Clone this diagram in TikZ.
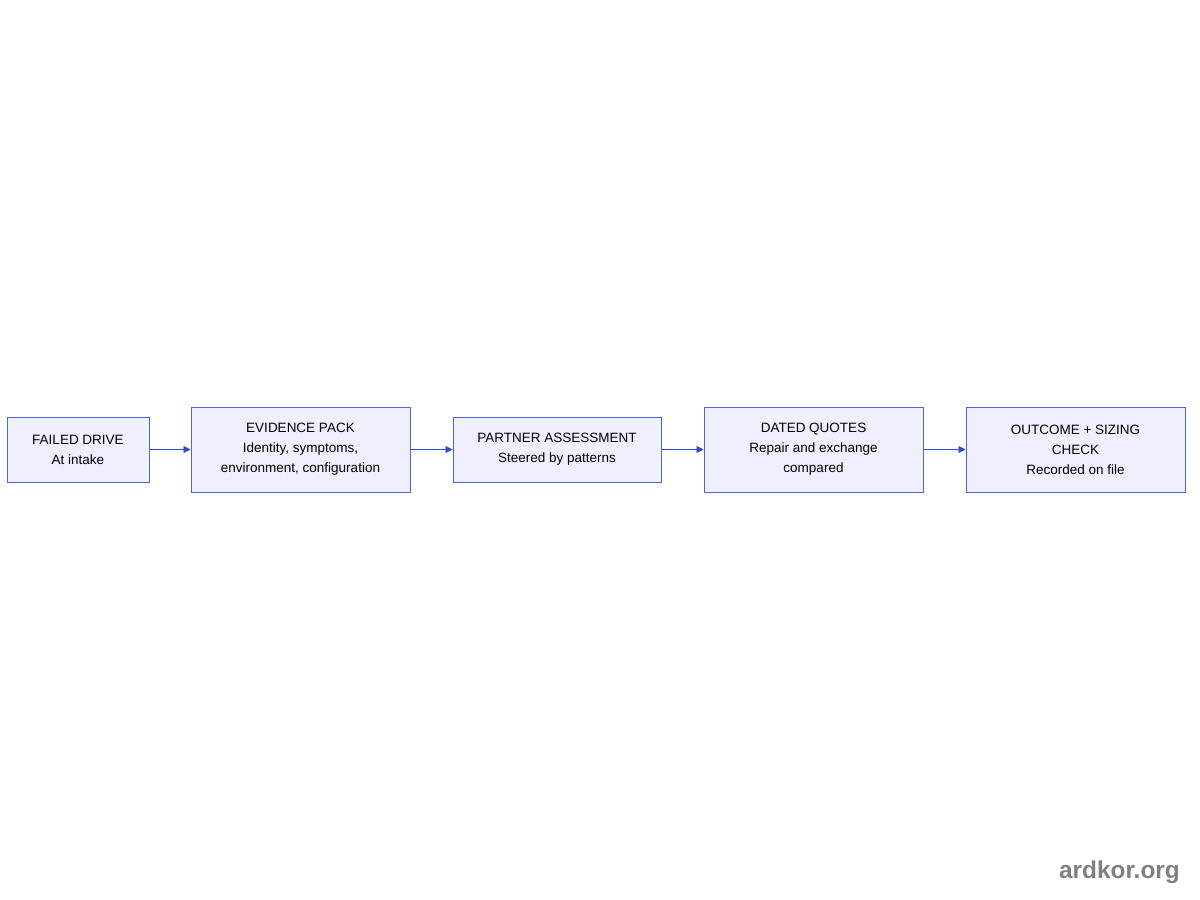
\documentclass[tikz,border=0pt]{standalone}
\usepackage{fontspec}
\setmainfont{Liberation Sans}
\usetikzlibrary{arrows.meta}
\definecolor{boxfill}{HTML}{EEF1FD}
\definecolor{boxdraw}{HTML}{4A66E0}
\definecolor{arrowc}{HTML}{2F49D1}
\definecolor{wm}{HTML}{808080}
\begin{document}
\begin{tikzpicture}[x=1pt,y=-1pt,
  stage/.style={draw=boxdraw,fill=boxfill,line width=1pt,align=center,
    font=\fontsize{13.5}{20}\selectfont,inner sep=0pt,anchor=center},
  flow/.style={draw=arrowc,line width=0.9pt,-{Triangle[length=7pt,width=7pt]}}]
\useasboundingbox (0,0) rectangle (1200,900);
\node[stage,minimum width=142pt,minimum height=65pt] (a) at (78,449.5) {FAILED DRIVE\\At intake};
\node[stage,minimum width=219pt,minimum height=85pt] (b) at (300.5,449.5) {EVIDENCE PACK\\Identity, symptoms,\\environment, configuration};
\node[stage,minimum width=208pt,minimum height=65pt] (c) at (557,449.5) {PARTNER ASSESSMENT\\Steered by patterns};
\node[stage,minimum width=219pt,minimum height=85pt] (d) at (813.5,449.5) {DATED QUOTES\\Repair and exchange\\compared};
\node[stage,minimum width=219pt,minimum height=85pt] (e) at (1075.5,449.5) {OUTCOME + SIZING\\CHECK\\Recorded on file};
\draw[flow] (a) -- (b);
\draw[flow] (b) -- (c);
\draw[flow] (c) -- (d);
\draw[flow] (d) -- (e);
\node[text=wm,font=\fontsize{24.4}{30}\selectfont\bfseries,anchor=east,inner sep=0pt] (wmk) at (1180,872) {ardkor.org};
\end{tikzpicture}
\end{document}
